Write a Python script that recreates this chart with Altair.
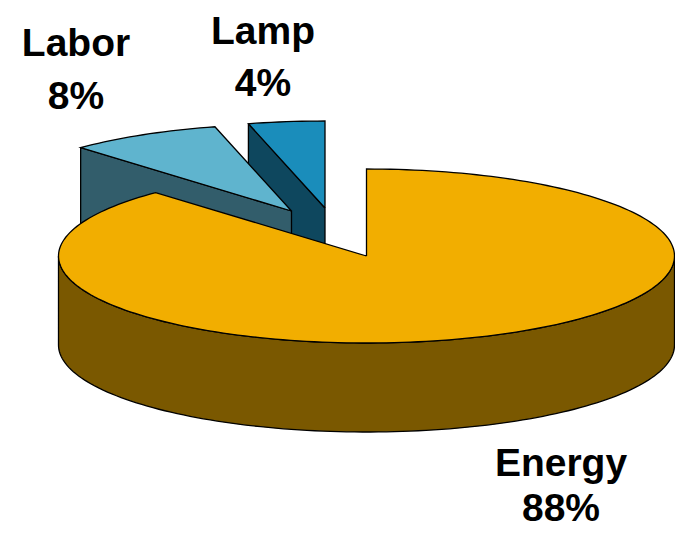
import math
import altair as alt
import pandas as pd

# ---- values
names = ["Energy", "Labor", "Lamp"]
shares = [88, 8, 4]
label_pct = ["88%", "8%", "4%"]

# ---- styling
top_colors = ["#F2AE00", "#5FB4CE", "#1A8DBB"]
side_colors = ["#7A5800", "#325D6B", "#0E475E"]

# ---- drawing geometry
W, H = 667, 521
CX, CY, RX, RY, DEPTH = 366.5, 256.0, 308.0, 87.0, 89.0
APEX = {"Energy": (367, 256), "Labor": (291.5, 211), "Lamp": (325, 208)}
LABELS = {"Energy": (561, 476, 521), "Labor": (76, 56, 109), "Lamp": (263, 44, 96)}
FONT = "Liberation Sans"
FS = 39


def ux(px):
    return (px - CX) / RX


def uy(py):
    return (CY - py) / RY


def rim(ax, ay, a0, a1, dy=0.0):
    """points on the projected pie rim; angles clockwise from 12 o'clock, degrees"""
    n = max(2, int(abs(a1 - a0) / 1.5) + 1)
    pts = []
    for i in range(n + 1):
        a = math.radians(a0 + (a1 - a0) * i / n)
        pts.append((ax + RX * math.sin(a), ay - RY * math.cos(a) + dy))
    return pts


def poly(points, fill):
    closed = list(points) + [points[0]]
    df = pd.DataFrame(
        {
            "x": [ux(p[0]) for p in closed],
            "y": [uy(p[1]) for p in closed],
            "i": range(len(closed)),
        }
    )
    return (
        alt.Chart(df)
        .mark_line(fill=fill, stroke="black", strokeWidth=1.3, fillOpacity=1, strokeJoin="miter", clip=False)
        .encode(
            x=alt.X("x:Q", scale=alt.Scale(domain=[ux(8), ux(8 + W)]), axis=None),
            y=alt.Y("y:Q", scale=alt.Scale(domain=[uy(8 + H), uy(8)]), axis=None),
            order=alt.Order("i:Q"),
        )
    )


# start/end angles of every slice, clockwise from 12 o'clock
angles = {}
start = 0.0
for nm, s in zip(names, shares):
    angles[nm] = (start, start + 360.0 * s / 100.0)
    start += 360.0 * s / 100.0

layers = []

# exploded slices: lamp first, labor over it
for nm in ["Lamp", "Labor"]:
    idx = names.index(nm)
    a0, a1 = angles[nm]
    ax, ay = APEX[nm]
    p0 = rim(ax, ay, a0, a0)[0]
    layers.append(
        poly([p0, (ax, ay), (ax, ay + DEPTH), (p0[0], p0[1] + DEPTH)], side_colors[idx])
    )
    layers.append(
        poly([(ax, ay)] + rim(ax, ay, a0, a1), top_colors[idx])
    )

# energy body
e = names.index("Energy")
lower = rim(CX, CY, 90, 270)
layers.append(
    poly(lower + [(p[0], p[1] + DEPTH) for p in reversed(lower)], side_colors[e])
)
a0, a1 = angles["Energy"]
layers.append(poly([(CX, CY)] + rim(CX, CY, a0, a1), top_colors[e]))

# labels
lab_rows = []
for nm, pct in zip(names, label_pct):
    lx, b1, b2 = LABELS[nm]
    lab_rows.append({"x": ux(lx), "y": uy(b1), "t": nm})
    lab_rows.append({"x": ux(lx), "y": uy(b2), "t": pct})
layers.append(
    alt.Chart(pd.DataFrame(lab_rows))
    .mark_text(font=FONT, fontSize=FS, fontWeight="bold", color="black", align="center", baseline="alphabetic")
    .encode(
        x=alt.X("x:Q", scale=alt.Scale(domain=[ux(8), ux(8 + W)]), axis=None),
        y=alt.Y("y:Q", scale=alt.Scale(domain=[uy(8 + H), uy(8)]), axis=None),
        text="t:N",
    )
)

chart = (
    alt.layer(*layers)
    .properties(
        width=W,
        height=H,
        padding=0,
        background="white",
        autosize=alt.AutoSizeParams(type="none"),
    )
    .configure_view(stroke=None)
)
chart.save("out.html", embed_options={"renderer": "svg", "actions": False})
